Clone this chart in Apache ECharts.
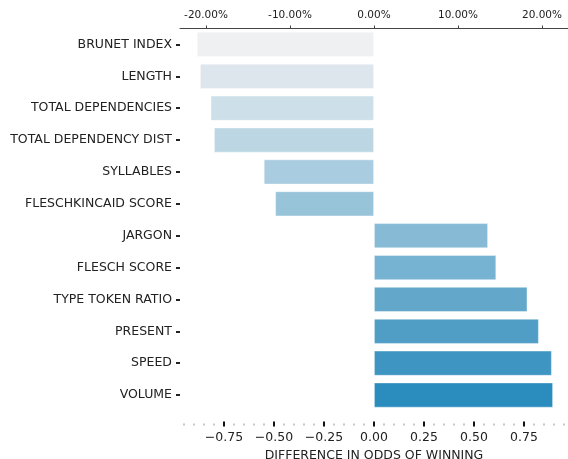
<!DOCTYPE html>
<html>
<head>
<meta charset="utf-8">
<script src="https://cdn.jsdelivr.net/npm/echarts@6/dist/echarts.min.js"></script>
<style>
  html, body { margin: 0; padding: 0; background: #fff; }
  #chart { width: 568px; height: 459px; }
</style>
</head>
<body>
<div id="chart"></div>
<script>
// 特征名称（从上到下）
const categories = ['BRUNET INDEX', 'LENGTH', 'TOTAL DEPENDENCIES', 'TOTAL DEPENDENCY DIST',
    'SYLLABLES', 'FLESCHKINCAID SCORE', 'JARGON', 'FLESCH SCORE', 'TYPE TOKEN RATIO',
    'PRESENT', 'SPEED', 'VOLUME'];
// 胜率差值
const values = [-0.886, -0.870, -0.817, -0.800, -0.551, -0.494, 0.570, 0.611, 0.767, 0.824, 0.889, 0.895];
// 每根柱子的颜色
const barColors = ['#eff0f1', '#dee6ed', '#cddfe8', '#bcd7e3', '#aacce0', '#98c4da',
    '#87bbd5', '#76b2d1', '#63a8cb', '#509ec6', '#3f95c2', '#2b8cbe'];
// 刻度
const bottomTicks = [-0.75, -0.5, -0.25, 0, 0.25, 0.5, 0.75];
const minorTicks = [-0.95, -0.9, -0.85, -0.8, -0.7, -0.65, -0.6, -0.55, -0.45, -0.4, -0.35, -0.3,
    -0.2, -0.15, -0.1, -0.05, 0.05, 0.1, 0.15, 0.2, 0.3, 0.35, 0.4, 0.45, 0.55, 0.6, 0.65, 0.7,
    0.8, 0.85, 0.9, 0.95];
const topTicks = [-20, -10, 0, 10, 20];

const font = 'DejaVu Sans';
const chart = echarts.init(document.getElementById('chart'));

const option = {
    animation: false,
    grid: { left: 180, right: 0, top: 28.5, bottom: 48, outerBoundsMode: 'none', containLabel: false },
    yAxis: {
        type: 'category',
        data: categories,
        inverse: true,
        axisLine: { show: false, onZero: false },
        axisTick: { show: true, length: 4, alignWithLabel: true, lineStyle: { color: '#222', width: 2 } },
        axisLabel: { fontFamily: font, fontSize: 12.5, color: '#222', margin: 8 },
        splitLine: { show: false }
    },
    xAxis: [
        {   // 下方主轴
            type: 'value', position: 'bottom', offset: 10.5,
            min: -0.97, max: 0.97,
            axisLine: { show: false },
            axisTick: { show: true, customValues: bottomTicks, length: 5, lineStyle: { color: '#111', width: 2 } },
            axisLabel: {
                customValues: bottomTicks, fontFamily: font, fontSize: 12.5, color: '#222', margin: 10,
                formatter: function (v) { return v.toFixed(2).replace('-', '\u2212'); }
            },
            splitLine: { show: false },
            name: 'DIFFERENCE IN ODDS OF WINNING',
            nameLocation: 'middle', nameGap: 26,
            nameTextStyle: { fontFamily: font, fontSize: 12.5, color: '#222' }
        },
        {   // 次刻度点
            type: 'value', position: 'bottom', offset: 12.5,
            min: -0.97, max: 0.97,
            axisLine: { show: false },
            axisTick: { show: true, customValues: minorTicks, length: 2, lineStyle: { color: '#c8c8c8', width: 2 } },
            axisLabel: { show: false, customValues: minorTicks },
            splitLine: { show: false }
        },
        {   // 上方百分比轴
            type: 'value', position: 'top',
            min: -23.1, max: 23.1,
            axisLine: { show: true, lineStyle: { color: '#444', width: 1 } },
            axisTick: { show: true, customValues: topTicks, length: 3, lineStyle: { color: '#444', width: 1 } },
            axisLabel: {
                customValues: topTicks, fontFamily: font, fontSize: 10.5, color: '#222', margin: 8,
                formatter: function (v) { return v.toFixed(2) + '%'; }
            },
            splitLine: { show: false }
        }
    ],
    series: [{
        type: 'bar',
        xAxisIndex: 0,
        barCategoryGap: '21.5%',
        data: values.map(function (v, i) {
            return { value: v, itemStyle: { color: barColors[i] } };
        }),
        itemStyle: { borderColor: 'rgba(255,255,255,0.5)', borderWidth: 0.8 }
    }]
};

chart.setOption(option);
</script>
</body>
</html>
